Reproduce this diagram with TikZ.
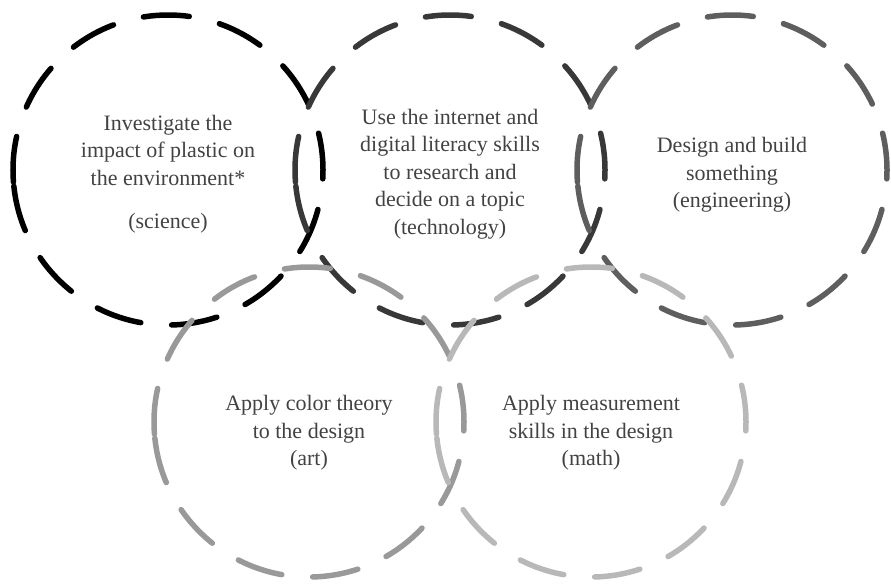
\documentclass[tikz,border=0pt]{standalone}
\usepackage{fontspec}
\setmainfont{Liberation Serif}
\usetikzlibrary{positioning}

\definecolor{ringA}{gray}{0.0}
\definecolor{ringB}{gray}{0.22}
\definecolor{ringC}{gray}{0.37}
\definecolor{ringD}{gray}{0.60}
\definecolor{ringE}{gray}{0.72}
\definecolor{txtgray}{gray}{0.26}

\begin{document}
\begin{tikzpicture}[x=1pt,y=-1pt,on grid,node distance=282pt,
                    ring/.style={line width=5.5pt,line cap=round,dash pattern=on 46pt off 31pt},
                    topic/.style={align=center,text=txtgray,font=\fontsize{22}{27.5}\selectfont}]

 \useasboundingbox (0,0) rectangle (891,584);

 % centres of the five rings
 \coordinate (c1) at (168,170);
 \coordinate [right=of c1] (c2);
 \coordinate [right=of c2] (c3);
 \coordinate [below right=252pt and 141pt of c1] (c4);
 \coordinate [right=of c4] (c5);

 % rings, each starting just below its left point
 \foreach \c/\col in {c1/ringA,c2/ringB,c3/ringC,c4/ringD,c5/ringE}
   \draw[ring,\col] (\c) ++(184.5:155pt) arc[start angle=184.5,end angle=-175.5,radius=155pt];

 \node[topic,yshift=-4pt] (sci) at (c1) {Investigate the\\impact of plastic on\\the environment*\\[16pt](science)};
 \node[topic,yshift=-4pt] (tech) at (c2) {Use the internet and\\digital literacy skills\\to research and\\decide on a topic\\(technology)};
 \node[topic,yshift=-5pt] (eng) at (c3) {Design and build\\something\\(engineering)};
 \node[topic,yshift=-11pt] (art) at (c4) {Apply color theory\\to the design\\(art)};
 \node[topic,yshift=-11pt] (math) at (c5) {Apply measurement\\skills in the design\\(math)};

\end{tikzpicture}
\end{document}
